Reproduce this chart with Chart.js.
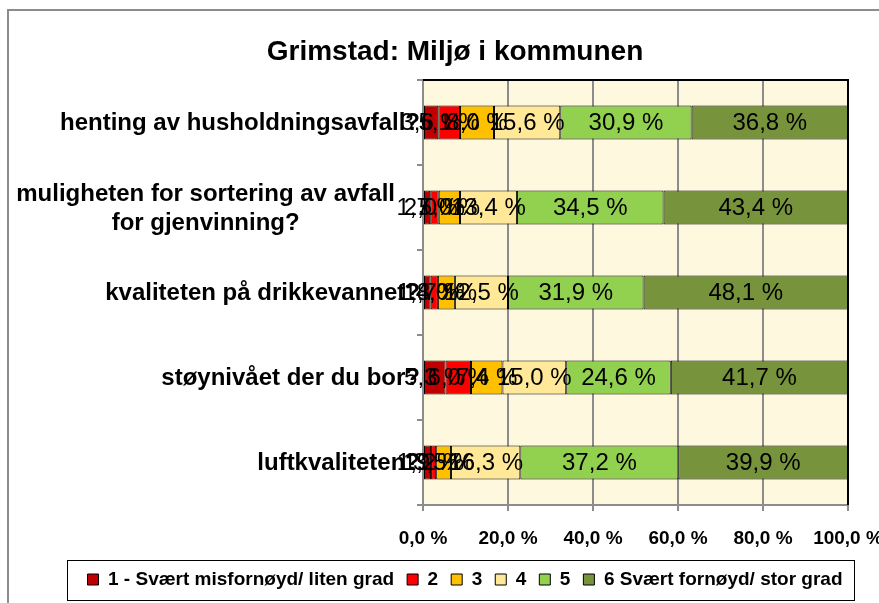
<!DOCTYPE html>
<html lang="no">
<head>
<meta charset="UTF-8">
<title>Grimstad: Miljø i kommunen</title>
<script src="https://cdn.jsdelivr.net/npm/chart.js"></script>
<style>
  body { margin: 0; background: #fff; }
  #wrap { width: 879px; height: 603px; }
</style>
</head>
<body>
<div id="wrap"><canvas id="chart" width="879" height="603"></canvas></div>
<script>
  // categories (wrapped lines) and series
  const categories = [
    ['henting av husholdningsavfall?'],
    ['muligheten for sortering av avfall', 'for gjenvinning?'],
    ['kvaliteten på drikkevannet?'],
    ['støynivået der du bor?'],
    ['luftkvaliteten?']
  ];
  const seriesNames = ['1 - Svært misfornøyd/ liten grad', '2', '3', '4', '5', '6 Svært fornøyd/ stor grad'];
  const grade1 = [3.6, 1.7, 1.8, 5.3, 1.9];
  const grade2 = [5.1, 2.0, 1.7, 6.0, 1.2];
  const grade3 = [8.0, 5.0, 4.0, 7.4, 3.5];
  const grade4 = [15.6, 13.4, 12.5, 15.0, 16.3];
  const grade5 = [30.9, 34.5, 31.9, 24.6, 37.2];
  const grade6 = [36.8, 43.4, 48.1, 41.7, 39.9];
  const xTicks = [0, 20, 40, 60, 80, 100];

  const colors = ['#C00000', '#FF0000', '#FFC000', '#FFE999', '#92D050', '#77933C'];
  const FONT = '"Liberation Sans", Arial, sans-serif';

  const fmt = v => v.toFixed(1).replace('.', ',') + ' %';

  const datasets = [grade1, grade2, grade3, grade4, grade5, grade6].map((d, i) => ({
    label: seriesNames[i],
    data: d,
    backgroundColor: colors[i],
    borderColor: '#000',
    borderWidth: 1,
    borderSkipped: false,
    barPercentage: 0.4,
    categoryPercentage: 1.0
  }));

  // background, outer frame, plot fill
  const framePlugin = {
    id: 'frame',
    beforeDraw(chart) {
      const ctx = chart.ctx, a = chart.chartArea;
      ctx.save();
      ctx.fillStyle = '#fff';
      ctx.fillRect(0, 0, chart.width, chart.height);
      ctx.strokeStyle = '#8c8c8c';
      ctx.lineWidth = 2;
      ctx.strokeRect(8, 10, chart.width + 20, chart.height + 20);
      ctx.fillStyle = '#FEF8DE';
      ctx.fillRect(a.left, a.top, a.right - a.left, a.bottom - a.top);
      ctx.restore();
    },
    beforeDatasetsDraw(chart) {
      const ctx = chart.ctx, a = chart.chartArea;
      ctx.save();
      ctx.strokeStyle = '#000';
      ctx.lineWidth = 2;
      ctx.beginPath();
      ctx.moveTo(a.left, a.top);
      ctx.lineTo(a.right, a.top);
      ctx.lineTo(a.right, a.bottom);
      ctx.stroke();
      ctx.restore();
    },
    afterDatasetsDraw(chart) {
      const ctx = chart.ctx;
      ctx.save();
      ctx.font = '24px ' + FONT;
      ctx.fillStyle = '#000';
      ctx.textAlign = 'center';
      ctx.textBaseline = 'middle';
      chart.data.datasets.forEach((ds, i) => {
        chart.getDatasetMeta(i).data.forEach((bar, j) => {
          const c = bar.getCenterPoint();
          ctx.fillText(fmt(ds.data[j]), c.x, c.y + 1);
        });
      });
      ctx.restore();
    },
    afterDraw(chart) {
      const ctx = chart.ctx, y = chart.scales.y;
      ctx.save();
      // title
      ctx.fillStyle = '#000';
      ctx.font = 'bold 28px ' + FONT;
      ctx.textAlign = 'center';
      ctx.textBaseline = 'alphabetic';
      ctx.fillText('Grimstad: Miljø i kommunen', 455, 60);
      // category labels, centred lines in a right-aligned block
      ctx.font = 'bold 24px ' + FONT;
      ctx.textBaseline = 'middle';
      categories.forEach((lines, j) => {
        const cy = y.getPixelForValue(j);
        const w = Math.max(...lines.map(t => ctx.measureText(t).width));
        const right = y.right - (lines.length > 1 ? 28 : 3);
        const lh = 29;
        lines.forEach((t, k) => {
          ctx.fillText(t, right - w / 2, cy + 1 + (k - (lines.length - 1) / 2) * lh);
        });
      });
      // legend frame
      const boxes = chart.legend.legendHitBoxes;
      if (boxes && boxes.length) {
        const l = Math.min(...boxes.map(b => b.left)) - 21;
        const r = Math.max(...boxes.map(b => b.left + b.width)) + 11;
        const cy = boxes[0].top + boxes[0].height / 2;
        ctx.strokeStyle = '#000';
        ctx.lineWidth = 1;
        ctx.strokeRect(Math.round(l) + 0.5, Math.round(cy - 20) + 0.5, Math.round(r - l), 40);
      }
      ctx.restore();
    }
  };

  new Chart(document.getElementById('chart'), {
    type: 'bar',
    data: { labels: categories.map(c => c.join(' ')), datasets: datasets },
    plugins: [framePlugin],
    options: {
      indexAxis: 'y',
      responsive: false,
      animation: false,
      devicePixelRatio: 1,
      layout: { padding: { left: 51, right: 0, top: 80, bottom: 4 } },
      scales: {
        x: {
          stacked: true,
          min: 0,
          max: 100,
          afterBuildTicks(scale) {
            scale.ticks = xTicks.map(v => ({ value: v }));
          },
          afterFit(scale) {
            scale.height = 52;
            scale.paddingLeft = 0;
            scale.paddingRight = 31;
          },
          ticks: {
            callback: v => fmt(v),
            color: '#000',
            font: { family: FONT, size: 19, weight: 'bold' },
            padding: 16,
            maxRotation: 0,
            autoSkip: false
          },
          grid: { color: '#8c8c8c', lineWidth: 2, tickLength: 6 },
          border: { color: '#8c8c8c', width: 2 }
        },
        y: {
          stacked: true,
          afterFit(scale) {
            scale.width = 423 - 51;
            scale.paddingTop = 0;
            scale.paddingBottom = 0;
          },
          ticks: { display: false },
          grid: { display: true, drawOnChartArea: false, offset: true, color: '#8c8c8c', lineWidth: 2, tickLength: 6 },
          border: { color: '#8c8c8c', width: 2 }
        }
      },
      plugins: {
        title: { display: false },
        tooltip: { enabled: false },
        legend: {
          position: 'bottom',
          labels: {
            color: '#000',
            font: { family: FONT, size: 19, weight: 'bold' },
            boxWidth: 11,
            boxHeight: 11,
            padding: 13
          }
        }
      }
    }
  });
</script>
</body>
</html>
